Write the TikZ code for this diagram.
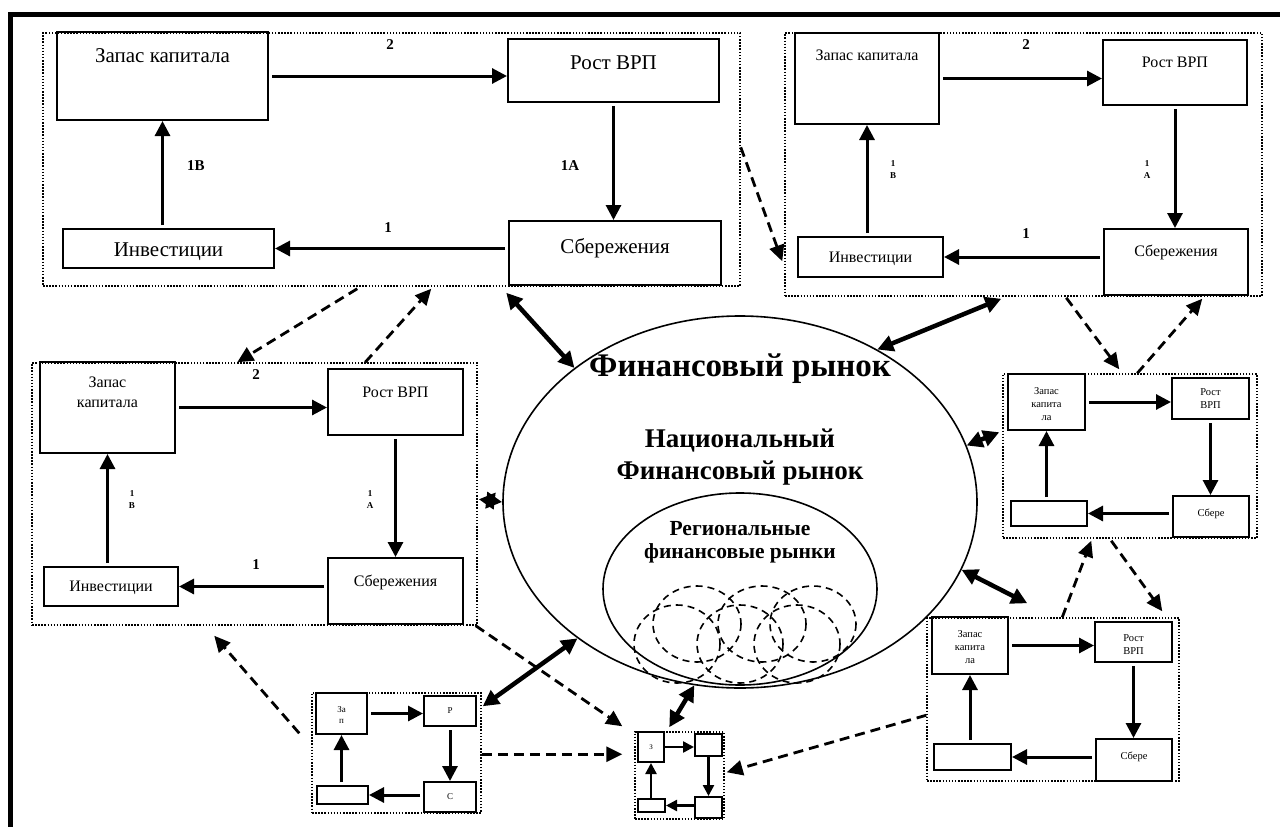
\documentclass[tikz,border=0pt]{standalone}
\usepackage{fontspec}
\setmainfont{Liberation Serif}
\usetikzlibrary{arrows.meta,shapes.geometric,calc}

\begin{document}
\begin{tikzpicture}[x=1pt,y=-1pt,
	bx/.style={draw,line width=2pt,inner sep=0pt},
	blk/.style={draw,line width=1.5pt,dash pattern=on 1.5pt off 1.6pt,inner sep=0pt},
	arr/.style={line width=3pt,-{Triangle[length=15pt,width=15pt]},shorten <=3pt},
	arrs/.style={line width=2.4pt,-{Triangle[length=11pt,width=11pt]}},
	dbl/.style={line width=4.5pt,{Triangle[length=16pt,width=16pt]}-{Triangle[length=16pt,width=16pt]}},
	dsh/.style={line width=2.8pt,dash pattern=on 10pt off 6pt,-{Triangle[length=16pt,width=15pt]}},
	big/.style={font=\fontsize{21}{24}\selectfont},
	mid/.style={font=\fontsize{16}{20}\selectfont,align=center},
	sml/.style={font=\fontsize{10.5}{13}\selectfont,align=center},
	num/.style={font=\bfseries\fontsize{15}{17}\selectfont},
	nums/.style={font=\bfseries\fontsize{9}{12}\selectfont,align=center},
	regc/.style={line width=1.6pt,dash pattern=on 7pt off 5pt}]
	\useasboundingbox (0,0) rectangle (1280,827);
		%outer frame
			\draw[line width=5pt] (10,827) -- (10,14) -- (1280,14);
		%market
			\node[draw,ellipse,line width=1.6pt,minimum width=474,minimum height=372,inner sep=0pt] (mkt) at (740,502) {};
			\node[draw,ellipse,line width=1.6pt,minimum width=274,minimum height=192,inner sep=0pt] (reg) at (740,589) {};
			\node[font=\bfseries\fontsize{33}{38}\selectfont] (mktname) at ([yshift=-53]mkt.north) {Финансовый рынок};
			\node[font=\bfseries\fontsize{27}{32}\selectfont,align=center] (natname) at ([yshift=-142]mkt.north) {Национальный\\Финансовый рынок};
			\node[font=\bfseries\fontsize{21.5}{23}\selectfont,align=center] (regname) at ([yshift=-50]reg.north) {Региональные\\финансовые рынки};
			\draw[regc] (697,624) ellipse [x radius=44,y radius=38];
			\draw[regc] (762,624) ellipse [x radius=44,y radius=38];
			\draw[regc] (813,624) ellipse [x radius=43,y radius=38];
			\draw[regc] (677,644) ellipse [x radius=43,y radius=39];
			\draw[regc] (740,644) ellipse [x radius=43,y radius=39];
			\draw[regc] (797,644) ellipse [x radius=43,y radius=39];
		%block 1
			\node[blk,minimum width=697,minimum height=253] (f1) at (391.5,159.5) {};
			\node[bx,minimum width=211,minimum height=88] (zk1) at (162.5,76) {};
			\node[bx,minimum width=211,minimum height=63] (rv1) at (613.5,70.5) {};
			\node[bx,minimum width=212,minimum height=64] (sb1) at (615,253) {};
			\node[bx,minimum width=211,minimum height=39] (iv1) at (168.5,248.5) {};
			\node[big] (zk1t) at ([yshift=-25]zk1.north) {Запас капитала};
			\node[big] (rv1t) at ([yshift=-25]rv1.north) {Рост ВРП};
			\node[big] (sb1t) at ([yshift=-28]sb1.north) {Сбережения};
			\node[big] (iv1t) at ([yshift=-24]iv1.north) {Инвестиции};
			\draw[arr] (zk1.east) -- (zk1.east -| rv1.west);
			\draw[arr] (rv1.south) -- (rv1.south |- sb1.north);
			\draw[arr] (sb1.west |- iv1.east) -- (iv1.east);
			\draw[arr] (zk1.south |- iv1.north) -- (zk1.south);
			\node[num] (l1a) at (390,45) {2};
			\node[num] (l1b) at (570,166) {1А};
			\node[num] (l1c) at (388,228) {1};
			\node[num] (l1d) at (196,166) {1В};
		%block 2
			\node[blk,minimum width=477,minimum height=263] (f2) at (1023.5,164.5) {};
			\node[bx,minimum width=144,minimum height=91] (zk2) at (867,78.5) {};
			\node[bx,minimum width=144,minimum height=65] (rv2) at (1175,72.5) {};
			\node[bx,minimum width=144,minimum height=66] (sb2) at (1176,262) {};
			\node[bx,minimum width=145,minimum height=40] (iv2) at (870.5,257) {};
			\node[mid] (zk2t) at ([yshift=-23]zk2.north) {Запас капитала};
			\node[mid] (rv2t) at ([yshift=-23]rv2.north) {Рост ВРП};
			\node[mid] (sb2t) at ([yshift=-24]sb2.north) {Сбережения};
			\node[mid] (iv2t) at ([yshift=-2]iv2) {Инвестиции};
			\draw[arr] (zk2.east) -- (zk2.east -| rv2.west);
			\draw[arr] (rv2.south) -- (rv2.south |- sb2.north);
			\draw[arr] (sb2.west |- iv2.east) -- (iv2.east);
			\draw[arr] (zk2.south |- iv2.north) -- (zk2.south);
			\node[num] (l2a) at (1026,45) {2};
			\node[nums] (l2b) at (1147,170) {1\\А};
			\node[num] (l2c) at (1026,234) {1};
			\node[nums] (l2d) at (893,170) {1\\В};
		%block 3
			\node[blk,minimum width=445,minimum height=262] (f3) at (254.5,494) {};
			\node[bx,minimum width=135,minimum height=91] (zk3) at (107.5,407.5) {};
			\node[bx,minimum width=135,minimum height=66] (rv3) at (395.5,402) {};
			\node[bx,minimum width=135,minimum height=66] (sb3) at (395.5,591) {};
			\node[bx,minimum width=134,minimum height=39] (iv3) at (111,586.5) {};
			\node[mid] (zk3t) at ([yshift=-31]zk3.north) {Запас\\капитала};
			\node[mid] (rv3t) at ([yshift=-24]rv3.north) {Рост ВРП};
			\node[mid] (sb3t) at ([yshift=-25]sb3.north) {Сбережения};
			\node[mid] (iv3t) at ([yshift=-1]iv3) {Инвестиции};
			\draw[arr] (zk3.east) -- (zk3.east -| rv3.west);
			\draw[arr] (rv3.south) -- (rv3.south |- sb3.north);
			\draw[arr] (sb3.west |- iv3.east) -- (iv3.east);
			\draw[arr] (zk3.south |- iv3.north) -- (zk3.south);
			\node[num] (l3a) at (256,375) {2};
			\node[nums] (l3b) at (370,500) {1\\А};
			\node[num] (l3c) at (256,565) {1};
			\node[nums] (l3d) at (132,500) {1\\В};
		%block 4
			\node[blk,minimum width=254,minimum height=164] (f4) at (1130,456) {};
			\node[bx,minimum width=77,minimum height=56] (zk4) at (1046.5,402) {};
			\node[bx,minimum width=77,minimum height=41] (rv4) at (1210.5,398.5) {};
			\node[bx,minimum width=76,minimum height=41] (sb4) at (1211,516.5) {};
			\node[bx,minimum width=76,minimum height=25] (iv4) at (1049,513.5) {};
			\node[sml] (zk4t) at ([yshift=-2]zk4) {Запас\\капита\\ла};
			\node[sml] (rv4t) at (rv4) {Рост\\ВРП};
			\node[sml] (sb4t) at ([yshift=3]sb4) {Сбере};
			\draw[arr] (zk4.east) -- (zk4.east -| rv4.west);
			\draw[arr] (rv4.south) -- (rv4.south |- sb4.north);
			\draw[arr] (sb4.west |- iv4.east) -- (iv4.east);
			\draw[arr] (zk4.south |- iv4.north) -- (zk4.south);
		%block 5
			\node[blk,minimum width=252,minimum height=163] (f5) at (1053,699.5) {};
			\node[bx,minimum width=76,minimum height=57] (zk5) at (970,645.5) {};
			\node[bx,minimum width=77,minimum height=40] (rv5) at (1133.5,642) {};
			\node[bx,minimum width=76,minimum height=42] (sb5) at (1134,760) {};
			\node[bx,minimum width=77,minimum height=26] (iv5) at (972.5,757) {};
			\node[sml] (zk5t) at ([yshift=-2]zk5) {Запас\\капита\\ла};
			\node[sml] (rv5t) at ([yshift=-3]rv5) {Рост\\ВРП};
			\node[sml] (sb5t) at ([yshift=3]sb5) {Сбере};
			\draw[arr] (zk5.east) -- (zk5.east -| rv5.west);
			\draw[arr] (rv5.south) -- (rv5.south |- sb5.north);
			\draw[arr] (sb5.west |- iv5.east) -- (iv5.east);
			\draw[arr] (zk5.south |- iv5.north) -- (zk5.south);
		%block 6
			\node[blk,minimum width=169,minimum height=120] (f6) at (396.5,753) {};
			\node[bx,minimum width=51,minimum height=41] (zk6) at (341.5,713.5) {};
			\node[bx,minimum width=52,minimum height=30] (rv6) at (450,711) {};
			\node[bx,minimum width=52,minimum height=30] (sb6) at (450,797) {};
			\node[bx,minimum width=51,minimum height=18] (iv6) at (342.5,795) {};
			\node[font=\fontsize{9}{11}\selectfont,align=center] (zk6t) at ([yshift=-2]zk6) {За\\п};
			\node[font=\fontsize{9}{11}\selectfont] (rv6t) at (rv6) {Р};
			\node[font=\fontsize{9}{11}\selectfont] (sb6t) at (sb6) {С};
			\draw[arr] (zk6.east) -- (zk6.east -| rv6.west);
			\draw[arr] (rv6.south) -- (rv6.south |- sb6.north);
			\draw[arr] (sb6.west |- iv6.east) -- (iv6.east);
			\draw[arr] (zk6.south |- iv6.north) -- (zk6.south);
		%block 7
			\node[blk,minimum width=89,minimum height=87] (f7) at (679.5,775.5) {};
			\node[bx,minimum width=26,minimum height=30] (zk7) at (651,747) {};
			\node[bx,minimum width=27,minimum height=22] (rv7) at (708.5,745) {};
			\node[bx,minimum width=27,minimum height=21] (sb7) at (708.5,807.5) {};
			\node[bx,minimum width=27,minimum height=13] (iv7) at (651.5,805.5) {};
			\node[font=\fontsize{7}{8}\selectfont] (zk7t) at (zk7) {З};
			\draw[arrs] (zk7.east) -- (zk7.east -| rv7.west);
			\draw[arrs] (rv7.south) -- (rv7.south |- sb7.north);
			\draw[arrs] (sb7.west |- iv7.east) -- (iv7.east);
			\draw[arrs] (zk7.south |- iv7.north) -- (zk7.south);
		%links to market
			\draw[dbl] ($(f1.south west)+(464,6)$) -- (mkt.141);
			\draw[dbl] ($(f2.south west)+(217,2)$) -- (mkt.48);
			\draw[dbl] ($(f3.north east)+(1,137)$) -- (mkt.180);
			\draw[dbl] ($(f4.north west)+(-3,59)$) -- (mkt.14);
			\draw[dbl] ($(f5.north west)+(101,-14)$) -- (mkt.-17);
			\draw[dbl] ($(f6.north east)+(1,14)$) -- (mkt.220);
			\draw[dbl] ($(f7.north west)+(35,-4)$) -- (mkt.256);
		%links between blocks
			\draw[dsh] ($(f1.north east)+(0,115)$) -- ($(f2.north west)+(-2,229)$);
			\draw[dsh] ($(f1.south west)+(315,2)$) -- ($(f3.north west)+(206,0)$);
			\draw[dsh] ($(f3.north west)+(334,0)$) -- ($(f1.south west)+(389,2)$);
			\draw[dsh] ($(f2.south west)+(282,1)$) -- ($(f4.north west)+(117,-4)$);
			\draw[dsh] ($(f4.north west)+(135,0)$) -- ($(f2.south west)+(418,2)$);
			\draw[dsh] ($(f5.north west)+(136,0)$) -- ($(f4.south west)+(89,2)$);
			\draw[dsh] ($(f4.south west)+(109,2)$) -- ($(f5.north west)+(236,-6)$);
			\draw[dsh] ($(f6.north west)+(-12,41)$) -- ($(f3.south west)+(183,10)$);
			\draw[dsh] ($(f3.south east)+(-2,0)$) -- ($(f7.north west)+(-12,-5)$);
			\draw[dsh] ($(f6.north east)+(0,62)$) -- ($(f7.north west)+(-12,23)$);
			\draw[dsh] ($(f5.north west)+(0,98)$) -- ($(f7.north east)+(2,41)$);
	\end{tikzpicture}
\end{document}
